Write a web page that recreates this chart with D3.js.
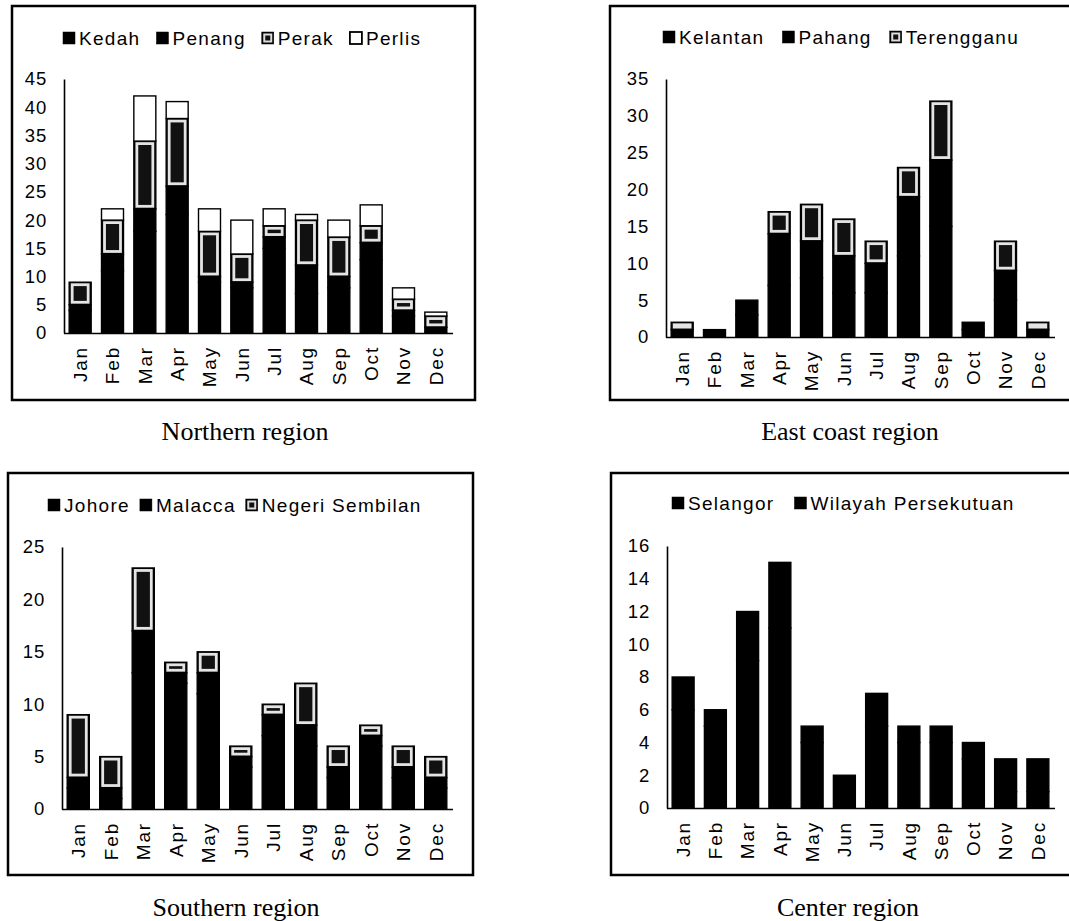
<!DOCTYPE html>
<html>
<head>
<meta charset="utf-8">
<script src="https://cdn.jsdelivr.net/npm/d3@7"></script>
<style>
  html, body { margin: 0; padding: 0; background: #fff; }
  svg { display: block; }
</style>
</head>
<body>
<svg id="chart" width="1069" height="921"></svg>
<script>
// ---------------- DATA ----------------
const months = ["Jan","Feb","Mar","Apr","May","Jun","Jul","Aug","Sep","Oct","Nov","Dec"];

// Northern region
const kedah  = [4, 11, 18, 21, 9, 8, 15, 7, 8, 13, 3, 1];
const penang = [1, 3, 4, 5, 1, 1, 2, 5, 2, 3, 1, 0];
const perak  = [4, 6, 12, 12, 8, 5, 2, 8, 7, 3, 2, 2];
const perlis = [0, 2, 8, 3, 4, 6, 3, 1, 3, 3.7, 2, 0.7];
const northTicks = [0, 5, 10, 15, 20, 25, 30, 35, 40, 45];

// East coast region
const kelantan   = [1, 1, 3, 7, 8, 6, 6, 11, 15, 1, 5, 1];
const pahang     = [0, 0, 2, 7, 5, 5, 4, 8, 9, 1, 4, 0];
const terengganu = [1, 0, 0, 3, 5, 5, 3, 4, 8, 0, 4, 1];
const eastTicks = [0, 5, 10, 15, 20, 25, 30, 35];

// Southern region
const johore  = [2, 1, 13, 12, 11, 4, 7, 6, 3, 6, 3, 2];
const malacca = [1, 1, 4, 1, 2, 1, 2, 2, 1, 1, 1, 1];
const negeri  = [6, 3, 6, 1, 2, 1, 1, 4, 2, 1, 2, 2];
const southTicks = [0, 5, 10, 15, 20, 25];

// Center region
const selangor = [6, 5, 9, 11, 4, 2, 5, 4, 4, 3, 1, 1];
const wilayah  = [2, 1, 3, 4, 1, 0, 2, 1, 1, 1, 2, 2];
const centerTicks = [0, 2, 4, 6, 8, 10, 12, 14, 16];

const panelTitles = ["Northern region", "East coast region", "Southern region", "Center region"];

// ---------------- DRAWING ----------------
const svg = d3.select("#chart");
svg.append("rect").attr("width", 1069).attr("height", 921).attr("fill", "#fff");

const SANS = "'Liberation Sans', Arial, sans-serif";
const SERIF = "'Liberation Serif', 'Times New Roman', serif";

function drawPanel(cfg) {
  const g = svg.append("g");
  // frame
  g.append("rect")
    .attr("x", cfg.frame[0]).attr("y", cfg.frame[1])
    .attr("width", cfg.frame[2]).attr("height", cfg.frame[3])
    .attr("fill", "none").attr("stroke", "#000").attr("stroke-width", 2.5);

  const keys = cfg.series.map(s => s.name);
  const rows = months.map((m, i) => {
    const r = { month: m };
    cfg.series.forEach(s => { r[s.name] = s.values[i]; });
    return r;
  });
  const stacked = d3.stack().keys(keys)(rows);

  const x = d3.scaleBand().domain(months).range([cfg.plot.x0, cfg.plot.x1])
    .paddingInner(0.32).paddingOuter(0.16);
  const yMax = cfg.ticks[cfg.ticks.length - 1];
  const y = d3.scaleLinear().domain([0, yMax]).range([cfg.plot.y0, cfg.plot.yTop]);

  // bars
  stacked.forEach((layer, li) => {
    const style = cfg.series[li].style;
    const lg = g.append("g");
    const segs = layer.filter(d => d[1] - d[0] > 0);
    lg.selectAll("rect.seg").data(segs).join("rect")
      .attr("class", "seg")
      .attr("x", d => x(d.data.month))
      .attr("y", d => y(d[1]))
      .attr("width", x.bandwidth())
      .attr("height", d => y(d[0]) - y(d[1]))
      .attr("fill", style === "white" ? "#fff" : "#000")
      .attr("stroke", "#000").attr("stroke-width", 1.4);
    if (style === "framed") {
      lg.selectAll("rect.inner").data(segs).join("rect")
        .attr("class", "inner")
        .attr("x", d => x(d.data.month) + 3)
        .attr("y", d => y(d[1]) + 2.5)
        .attr("width", x.bandwidth() - 6)
        .attr("height", d => Math.max(0.5, y(d[0]) - y(d[1]) - 5))
        .attr("fill", "#111")
        .attr("stroke", "#e4e4e4").attr("stroke-width", 2.8);
    }
  });

  // y axis
  const yAxis = d3.axisLeft(y).tickValues(cfg.ticks).tickSize(0).tickSizeOuter(0).tickPadding(17);
  const ya = g.append("g").attr("transform", `translate(${cfg.plot.x0},0)`).call(yAxis);
  ya.select(".domain").attr("stroke", "#000").attr("stroke-width", 1.6);
  ya.selectAll("text").attr("font-family", SANS).attr("font-size", 18.5)
    .attr("letter-spacing", 0.8).attr("fill", "#000");

  // x axis
  const xAxis = d3.axisBottom(x).tickSize(0).tickSizeOuter(0);
  const xa = g.append("g").attr("transform", `translate(0,${cfg.plot.y0})`).call(xAxis);
  xa.select(".domain").attr("stroke", "#000").attr("stroke-width", 1.6)
    .attr("d", `M${cfg.plot.x0},0.5H${cfg.plot.x1 + 1}`);
  xa.selectAll("text")
    .attr("font-family", SANS).attr("font-size", 19).attr("letter-spacing", 1.8)
    .attr("fill", "#000")
    .attr("y", 0).attr("x", -13).attr("dy", "0.36em")
    .attr("transform", "rotate(-90)")
    .style("text-anchor", "end");

  // legend
  let lx = cfg.legend.x;
  const ly = cfg.legend.y;
  cfg.series.forEach(s => {
    const sw = g.append("g");
    const sz = 12;
    sw.append("rect").attr("x", lx).attr("y", ly - sz / 2).attr("width", sz).attr("height", sz)
      .attr("fill", s.style === "white" ? "#fff" : "#000")
      .attr("stroke", "#000").attr("stroke-width", s.style === "white" ? 1.8 : 0.5);
    if (s.style === "framed") {
      sw.append("rect").attr("x", lx + 2.5).attr("y", ly - sz / 2 + 2.5)
        .attr("width", sz - 5).attr("height", sz - 5)
        .attr("fill", "#111").attr("stroke", "#ddd").attr("stroke-width", 2);
    }
    const t = g.append("text")
      .attr("x", lx + sz + 4).attr("y", ly).attr("dy", "0.36em")
      .attr("font-family", SANS).attr("font-size", 19).attr("letter-spacing", 1.3)
      .attr("fill", "#000").text(s.name);
    lx += sz + 4 + t.node().getComputedTextLength() + cfg.legend.gap;
  });

  // title
  g.append("text")
    .attr("x", cfg.title.x).attr("y", cfg.title.y)
    .attr("text-anchor", "middle")
    .attr("font-family", SERIF).attr("font-size", 26)
    .attr("fill", "#000").text(cfg.title.text);
}

drawPanel({
  series: [
    { name: "Kedah", values: kedah, style: "solid" },
    { name: "Penang", values: penang, style: "solid" },
    { name: "Perak", values: perak, style: "framed" },
    { name: "Perlis", values: perlis, style: "white" }
  ],
  ticks: northTicks,
  frame: [12, 6, 463, 394],
  plot: { x0: 64, x1: 452, y0: 333, yTop: 79 },
  legend: { x: 63, y: 38, gap: 16 },
  title: { x: 245, y: 440, text: panelTitles[0] }
});

drawPanel({
  series: [
    { name: "Kelantan", values: kelantan, style: "solid" },
    { name: "Pahang", values: pahang, style: "solid" },
    { name: "Terengganu", values: terengganu, style: "framed" }
  ],
  ticks: eastTicks,
  frame: [610, 6, 470, 394],
  plot: { x0: 666, x1: 1054, y0: 337, yTop: 79 },
  legend: { x: 663, y: 37, gap: 18 },
  title: { x: 850, y: 440, text: panelTitles[1] }
});

drawPanel({
  series: [
    { name: "Johore", values: johore, style: "solid" },
    { name: "Malacca", values: malacca, style: "solid" },
    { name: "Negeri Sembilan", values: negeri, style: "framed" }
  ],
  ticks: southTicks,
  frame: [8, 473, 465, 402],
  plot: { x0: 62, x1: 452, y0: 809, yTop: 547 },
  legend: { x: 48, y: 505, gap: 10 },
  title: { x: 236, y: 916, text: panelTitles[2] }
});

drawPanel({
  series: [
    { name: "Selangor", values: selangor, style: "solid" },
    { name: "Wilayah Persekutuan", values: wilayah, style: "solid" }
  ],
  ticks: centerTicks,
  frame: [611, 473, 470, 402],
  plot: { x0: 667, x1: 1054, y0: 808, yTop: 546 },
  legend: { x: 672, y: 503, gap: 20 },
  title: { x: 848, y: 916, text: panelTitles[3] }
});
</script>
</body>
</html>
